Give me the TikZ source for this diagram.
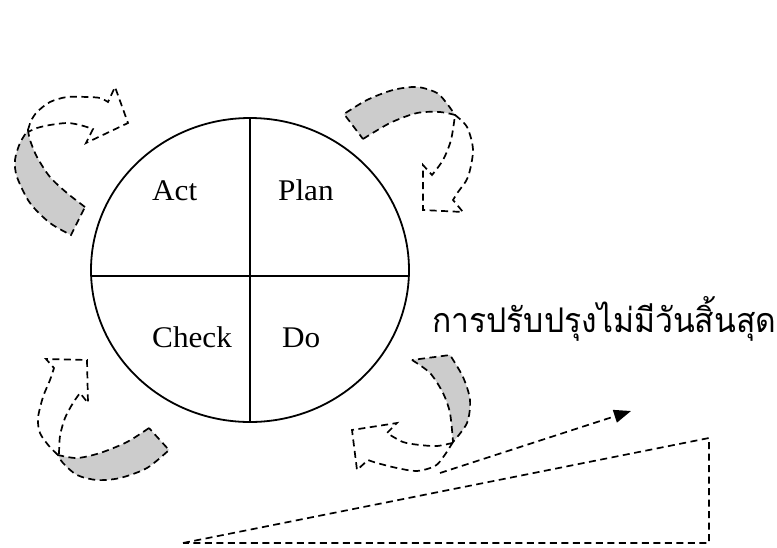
\documentclass[tikz,border=0pt]{standalone}
\usepackage{fontspec}
\setmainfont{Liberation Serif}
\newfontfamily\thaifont[Script=Thai]{Loma}
\usetikzlibrary{arrows.meta,shapes.geometric}
\tikzset{
  dline/.style={line width=1.7pt, dash pattern=on 7pt off 4.5pt},
  backside/.style={fill=black!20},
  solidline/.style={line width=1.8pt},
  label/.style={inner sep=0pt, anchor=base west, font=\fontsize{30}{36}\selectfont},
}
\begin{document}
\begin{tikzpicture}[x=1pt,y=-1pt]
\useasboundingbox (0,0) rectangle (777,547);

% PDCA wheel
\node[draw, solidline, ellipse, minimum width=318pt, minimum height=304pt, inner sep=0pt] (wheel) at (250,270) {};
\coordinate (hl) at (91.1,276);
\coordinate (hr) at (408.9,276);
\draw[solidline] (wheel.north) -- (wheel.south);
\draw[solidline] (hl) -- (hr);
\node[label] (act) at (152,200) {\scalebox{1.04}[1]{Act}};
\node[label] (plan) at (278,200) {\scalebox{1.04}[1]{Plan}};
\node[label] (check) at (152,347) {\scalebox{1.04}[1]{Check}};
\node[label] (do) at (282,347) {\scalebox{1.04}[1]{Do}};

% Act -> Plan ribbon arrow
\fill[backside] plot[smooth] coordinates {(85,207) (67,193) (50,177) (37,157) (30,140) (28,130)}
  -- plot[smooth] coordinates {(28,130) (20,143) (15,160) (17,177) (30,203) (50,223) (71,235)} -- cycle;
\draw[dline] plot[smooth] coordinates {(85,207) (67,193) (50,177) (37,157) (30,140) (28,130)}
  -- plot[smooth] coordinates {(28,130) (20,143) (15,160) (17,177) (30,203) (50,223) (71,235)} -- cycle;
\draw[dline] plot[smooth] coordinates {(28,130) (31,121) (37,112) (50,102) (67,97) (87,97) (100,98) (108,102)}
  -- (115,87) -- (128,123) -- (86,143)
  -- plot[smooth] coordinates {(93,129) (80,125) (67,123) (50,125) (37,128) (28,132)};

% Plan -> Do ribbon arrow
\fill[backside] plot[smooth] coordinates {(363,139) (390,123) (417,113) (440,112) (455,115)}
  -- plot[smooth] coordinates {(455,115) (448,105) (437,93) (417,87) (393,90) (367,100) (344,114)} -- cycle;
\draw[dline] plot[smooth] coordinates {(363,139) (390,123) (417,113) (440,112) (455,115)}
  -- plot[smooth] coordinates {(455,115) (448,105) (437,93) (417,87) (393,90) (367,100) (344,114)} -- cycle;
\draw[dline] plot[smooth] coordinates {(455,115) (467,127) (473,150) (468,177) (458,192) (453,200)}
  -- (463,212) -- (423,210) -- (423,165)
  -- plot[smooth] coordinates {(432,175) (443,160) (451,140) (455,115)};

% Do -> Check ribbon arrow
\fill[backside] plot[smooth] coordinates {(412,360) (430,373) (443,393) (450,413) (453,442)}
  -- plot[smooth] coordinates {(453,442) (467,423) (470,400) (463,377) (450,355)} -- cycle;
\draw[dline] plot[smooth] coordinates {(412,360) (430,373) (443,393) (450,413) (453,442)}
  -- plot[smooth] coordinates {(453,442) (467,423) (470,400) (463,377) (450,355)} -- cycle;
\draw[dline] plot[smooth] coordinates {(453,442) (444,456) (435,466) (417,471) (397,468) (377,463) (368,460)}
  -- (357,470) -- (352,430) -- (397,423)
  -- plot[smooth] coordinates {(387,433) (403,442) (420,445) (437,446) (452,443)};

% Check -> Act ribbon arrow
\fill[backside] plot[smooth] coordinates {(149,428) (127,442) (100,453) (77,458) (58,455)}
  -- plot[smooth] coordinates {(58,455) (63,463) (77,475) (97,480) (120,478) (147,468) (169,450)} -- cycle;
\draw[dline] plot[smooth] coordinates {(149,428) (127,442) (100,453) (77,458) (58,455)}
  -- plot[smooth] coordinates {(58,455) (63,463) (77,475) (97,480) (120,478) (147,468) (169,450)} -- cycle;
\draw[dline] plot[smooth] coordinates {(58,455) (49,446) (40,433) (38,418) (43,397) (50,380) (54,368)}
  -- (46,359) -- (87,360) -- (88,403)
  -- plot[smooth] coordinates {(80,393) (73,403) (65,418) (60,436) (59,455)};

% continuous improvement slope
\coordinate (s0) at (183,543);
\coordinate (s1) at (709,438);
\coordinate (s2) at (709,543);
\draw[dline] (s0) -- (s1) -- (s2) -- cycle;
\coordinate (a0) at (440,473);
\coordinate (a1) at (631,411);
\draw[dline, -{Triangle[length=17pt, width=13pt]}] (a0) -- (a1);

\node[inner sep=0pt, anchor=base west] (kaizen) at (432,332)
  {\resizebox{344pt}{\height}{\thaifont\fontsize{34}{40}\selectfont การปรับปรุงไม่มีวันสิ้นสุด}};
\end{tikzpicture}
\end{document}
